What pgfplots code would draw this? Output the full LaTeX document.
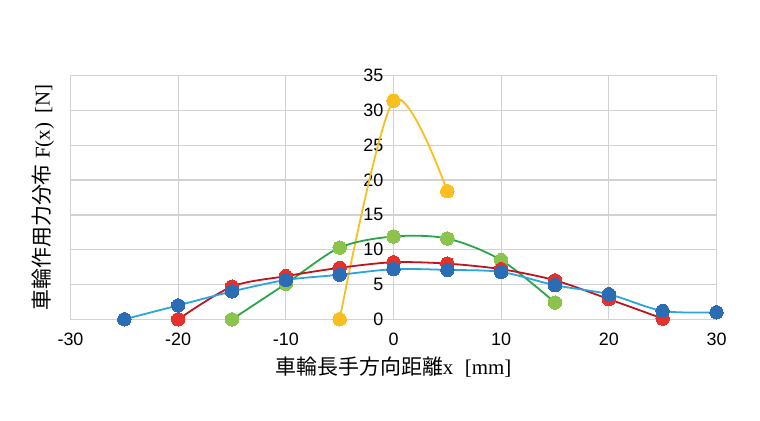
\documentclass[border=0pt]{standalone}
\usepackage{pgfplots}
\pgfplotsset{compat=1.18}
\usepackage{fontspec}
\setmainfont{Liberation Sans}
\newfontfamily\jp{Noto Sans CJK JP}
\newfontfamily\srf{Liberation Serif}
\definecolor{gridc}{HTML}{D2D2D2}
\definecolor{bline}{HTML}{2BA4DC}
\definecolor{bmark}{HTML}{2B6DB5}
\definecolor{rline}{HTML}{C0141E}
\definecolor{rmark}{HTML}{E4312B}
\definecolor{gline}{HTML}{28A64B}
\definecolor{gmark}{HTML}{8CC34D}
\definecolor{yel}{HTML}{F8BE22}
\begin{document}
\begin{tikzpicture}
\path[use as bounding box] (-70.5bp,-101.7bp) rectangle (689.5bp,319.3bp);
\begin{axis}[
  scale only axis,
  width=646bp, height=243.6bp,
  xmin=-30, xmax=30, ymin=0, ymax=35,
  xtick={-30,-20,-10,0,10,20,30},
  xticklabels={-30,-20,-10,0,10,20,30},
  ytick={0,5,10,15,20,25,30,35},
  yticklabels={0,5,10,15,20,25,30,35},
  grid=major,
  grid style={draw=gridc, line width=1.3bp},
  axis line style={draw=gridc, line width=1.3bp},
  major tick length=0pt,
  tick style={draw=none},
  ticklabel style={font=\fontsize{18}{20}\selectfont},
  xticklabel style={inner sep=0pt, yshift=-13.5bp},
  yticklabel style={inner sep=0pt},
  yticklabel shift=-313bp,
  clip=false,
  every axis x label/.style={at={(axis description cs:0.5,-0.196)}, anchor=center},
  every axis y label/.style={at={(axis description cs:-0.0426,0.5)}, anchor=center, rotate=90},
  xlabel={\fontsize{21}{23}\selectfont\jp 車輪長手方向距離\srf x\hspace{0.3em} [mm]},
  ylabel={\fontsize{21}{23}\selectfont\jp 車輪作用力分布\srf\ F(x)\hspace{0.2em} [N]},
]
\addplot[yel, line width=1.8bp, smooth, mark=*, mark size=6.7bp, mark options={fill=yel, draw=yel, line width=0pt}]
  coordinates {(-5,0)(0,31.4)(5,18.4)};
\addplot[gline, line width=1.8bp, smooth, mark=*, mark size=6.7bp, mark options={fill=gmark, draw=gmark, line width=0pt}]
  coordinates {(-15,0)(-10,5.1)(-5,10.3)(0,11.9)(5,11.6)(10,8.5)(15,2.4)};
\addplot[rline, line width=1.8bp, smooth, mark=*, mark size=6.7bp, mark options={fill=rmark, draw=rmark, line width=0pt}]
  coordinates {(-20,0)(-15,4.7)(-10,6.2)(-5,7.4)(0,8.2)(5,8.0)(10,7.2)(15,5.6)(20,2.9)(25,0.1)};
\addplot[bline, line width=1.8bp, smooth, mark=*, mark size=6.7bp, mark options={fill=bmark, draw=bmark, line width=0pt}]
  coordinates {(-25,0)(-20,2)(-15,4)(-10,5.65)(-5,6.4)(0,7.2)(5,7.1)(10,6.8)(15,4.9)(20,3.6)(25,1.2)(30,1.0)};
\end{axis}
\end{tikzpicture}
\end{document}
